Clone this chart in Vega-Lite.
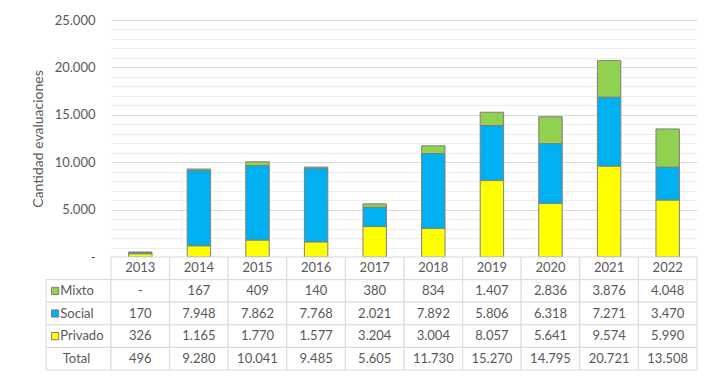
{
  "$schema": "https://vega.github.io/schema/vega-lite/v6.json",
  "padding": {"left": 31, "top": 14, "right": 5, "bottom": 5},
  "background": "white",
  "datasets": {
    "tabla": [
      {"year": "2013", "tipo": "Mixto", "valor": 0},
      {"year": "2014", "tipo": "Mixto", "valor": 167},
      {"year": "2015", "tipo": "Mixto", "valor": 409},
      {"year": "2016", "tipo": "Mixto", "valor": 140},
      {"year": "2017", "tipo": "Mixto", "valor": 380},
      {"year": "2018", "tipo": "Mixto", "valor": 834},
      {"year": "2019", "tipo": "Mixto", "valor": 1407},
      {"year": "2020", "tipo": "Mixto", "valor": 2836},
      {"year": "2021", "tipo": "Mixto", "valor": 3876},
      {"year": "2022", "tipo": "Mixto", "valor": 4048},
      {"year": "2013", "tipo": "Social", "valor": 170},
      {"year": "2014", "tipo": "Social", "valor": 7948},
      {"year": "2015", "tipo": "Social", "valor": 7862},
      {"year": "2016", "tipo": "Social", "valor": 7768},
      {"year": "2017", "tipo": "Social", "valor": 2021},
      {"year": "2018", "tipo": "Social", "valor": 7892},
      {"year": "2019", "tipo": "Social", "valor": 5806},
      {"year": "2020", "tipo": "Social", "valor": 6318},
      {"year": "2021", "tipo": "Social", "valor": 7271},
      {"year": "2022", "tipo": "Social", "valor": 3470},
      {"year": "2013", "tipo": "Privado", "valor": 326},
      {"year": "2014", "tipo": "Privado", "valor": 1165},
      {"year": "2015", "tipo": "Privado", "valor": 1770},
      {"year": "2016", "tipo": "Privado", "valor": 1577},
      {"year": "2017", "tipo": "Privado", "valor": 3204},
      {"year": "2018", "tipo": "Privado", "valor": 3004},
      {"year": "2019", "tipo": "Privado", "valor": 8057},
      {"year": "2020", "tipo": "Privado", "valor": 5641},
      {"year": "2021", "tipo": "Privado", "valor": 9574},
      {"year": "2022", "tipo": "Privado", "valor": 5990},
      {"year": "2013", "tipo": "Total", "valor": 496},
      {"year": "2014", "tipo": "Total", "valor": 9280},
      {"year": "2015", "tipo": "Total", "valor": 10041},
      {"year": "2016", "tipo": "Total", "valor": 9485},
      {"year": "2017", "tipo": "Total", "valor": 5605},
      {"year": "2018", "tipo": "Total", "valor": 11730},
      {"year": "2019", "tipo": "Total", "valor": 15270},
      {"year": "2020", "tipo": "Total", "valor": 14795},
      {"year": "2021", "tipo": "Total", "valor": 20721},
      {"year": "2022", "tipo": "Total", "valor": 13508}
    ]
  },
  "columns": 2,
  "spacing": 0,
  "bounds": "flush",
  "concat": [
    {
      "width": 65,
      "height": 237,
      "data": {"values": []},
      "mark": "text",
      "encoding": {}
    },
    {
      "width": 586,
      "height": 237,
      "data": {"name": "tabla"},
      "transform": [
        {"filter": "datum.tipo !== 'Total'"},
        {"calculate": "indexof(['Privado', 'Social', 'Mixto'], datum.tipo)", "as": "orden"}
      ],
      "mark": {"type": "bar", "width": {"band": 0.4}, "stroke": "#7f7f7f", "strokeWidth": 1},
      "encoding": {
        "x": {"field": "year", "type": "nominal", "scale": {"paddingInner": 0, "paddingOuter": 0}, "axis": null},
        "y": {
          "field": "valor",
          "type": "quantitative",
          "stack": "zero",
          "scale": {"domain": [0, 25000], "nice": false},
          "axis": {
            "title": "Cantidad evaluaciones",
            "values": [0, 1000, 2000, 3000, 4000, 5000, 6000, 7000, 8000, 9000, 10000, 11000, 12000, 13000, 14000, 15000, 16000, 17000, 18000, 19000, 20000, 21000, 22000, 23000, 24000, 25000],
            "labelExpr": "datum.value % 5000 === 0 ? (datum.value === 0 ? '-' : datum.label) : ''",
            "gridColor": {"condition": {"test": "datum.value % 5000 === 0", "value": "#d9d9d9"}, "value": "#eeeeee"},
            "ticks": false,
            "domain": false,
            "labelPadding": 16,
            "titlePadding": 9
          }
        },
        "color": {
          "field": "tipo",
          "type": "nominal",
          "scale": {"domain": ["Privado", "Social", "Mixto"], "range": ["#FFFF00", "#00B0F0", "#92D050"]},
          "legend": null
        },
        "order": {"field": "orden", "type": "quantitative", "sort": "ascending"}
      }
    },
    {
      "width": 65,
      "height": 113,
      "data": {"name": "tabla"},
      "transform": [{"filter": "datum.year === '2013'"}],
      "encoding": {
        "y": {"field": "tipo", "type": "nominal", "scale": {"domain": ["Año", "Mixto", "Social", "Privado", "Total"], "paddingInner": 0, "paddingOuter": 0}, "axis": null}
      },
      "layer": [
        {
          "mark": {"type": "rect", "fill": "white", "stroke": "#d9d9d9", "strokeWidth": 1},
          "encoding": {"x": {"datum": "h", "type": "nominal", "scale": {"paddingInner": 0, "paddingOuter": 0}, "axis": null}}
        },
        {
          "transform": [{"filter": "datum.tipo !== 'Total'"}],
          "mark": {"type": "square", "size": 52, "opacity": 1, "stroke": "#7f7f7f", "strokeWidth": 1},
          "encoding": {
            "x": {"datum": "h", "type": "nominal", "bandPosition": 0.14},
            "color": {"field": "tipo", "type": "nominal", "scale": {"domain": ["Privado", "Social", "Mixto"], "range": ["#FFFF00", "#00B0F0", "#92D050"]}, "legend": null}
          }
        },
        {
          "transform": [{"filter": "datum.tipo !== 'Total'"}],
          "mark": {"type": "text", "align": "left", "baseline": "middle", "fontSize": 13, "color": "#595959"},
          "encoding": {
            "x": {"datum": "h", "type": "nominal", "bandPosition": 0.22},
            "text": {"field": "tipo"}
          }
        },
        {
          "transform": [{"filter": "datum.tipo === 'Total'"}],
          "mark": {"type": "text", "align": "center", "baseline": "middle", "fontSize": 13, "color": "#595959"},
          "encoding": {
            "x": {"datum": "h", "type": "nominal", "bandPosition": 0.47},
            "text": {"field": "tipo"}
          }
        }
      ]
    },
    {
      "width": 586,
      "height": 113,
      "data": {"name": "tabla"},
      "encoding": {
        "x": {"field": "year", "type": "nominal", "scale": {"paddingInner": 0, "paddingOuter": 0}, "axis": null}
      },
      "layer": [
        {
          "mark": {"type": "rect", "fill": "white", "stroke": "#d9d9d9", "strokeWidth": 1},
          "encoding": {"y": {"field": "tipo", "type": "nominal", "scale": {"domain": ["Año", "Mixto", "Social", "Privado", "Total"], "paddingInner": 0, "paddingOuter": 0}, "axis": null}}
        },
        {
          "mark": {"type": "text", "align": "center", "baseline": "middle", "fontSize": 13, "color": "#595959"},
          "encoding": {
            "y": {"field": "tipo", "type": "nominal"},
            "text": {"condition": {"test": "datum.valor === 0", "value": "-"}, "field": "valor", "type": "quantitative", "format": ","}
          }
        },
        {
          "transform": [{"filter": "datum.tipo === 'Total'"}],
          "mark": {"type": "rect", "fill": "white", "stroke": "#d9d9d9", "strokeWidth": 1},
          "encoding": {"y": {"datum": "Año", "type": "nominal"}}
        },
        {
          "transform": [{"filter": "datum.tipo === 'Total'"}],
          "mark": {"type": "text", "align": "center", "baseline": "middle", "fontSize": 13, "color": "#595959"},
          "encoding": {
            "y": {"datum": "Año", "type": "nominal"},
            "text": {"field": "year"}
          }
        }
      ]
    }
  ],
  "config": {
    "view": {"stroke": null},
    "font": "Lato",
    "locale": {"number": {"decimal": ",", "thousands": ".", "grouping": [3], "currency": ["", " €"]}},
    "axis": {
      "labelFont": "Lato",
      "titleFont": "Lato",
      "labelColor": "#595959",
      "titleColor": "#595959",
      "labelFontSize": 13,
      "titleFontSize": 14,
      "titleFontWeight": "normal"
    },
    "text": {"font": "Lato"}
  }
}
